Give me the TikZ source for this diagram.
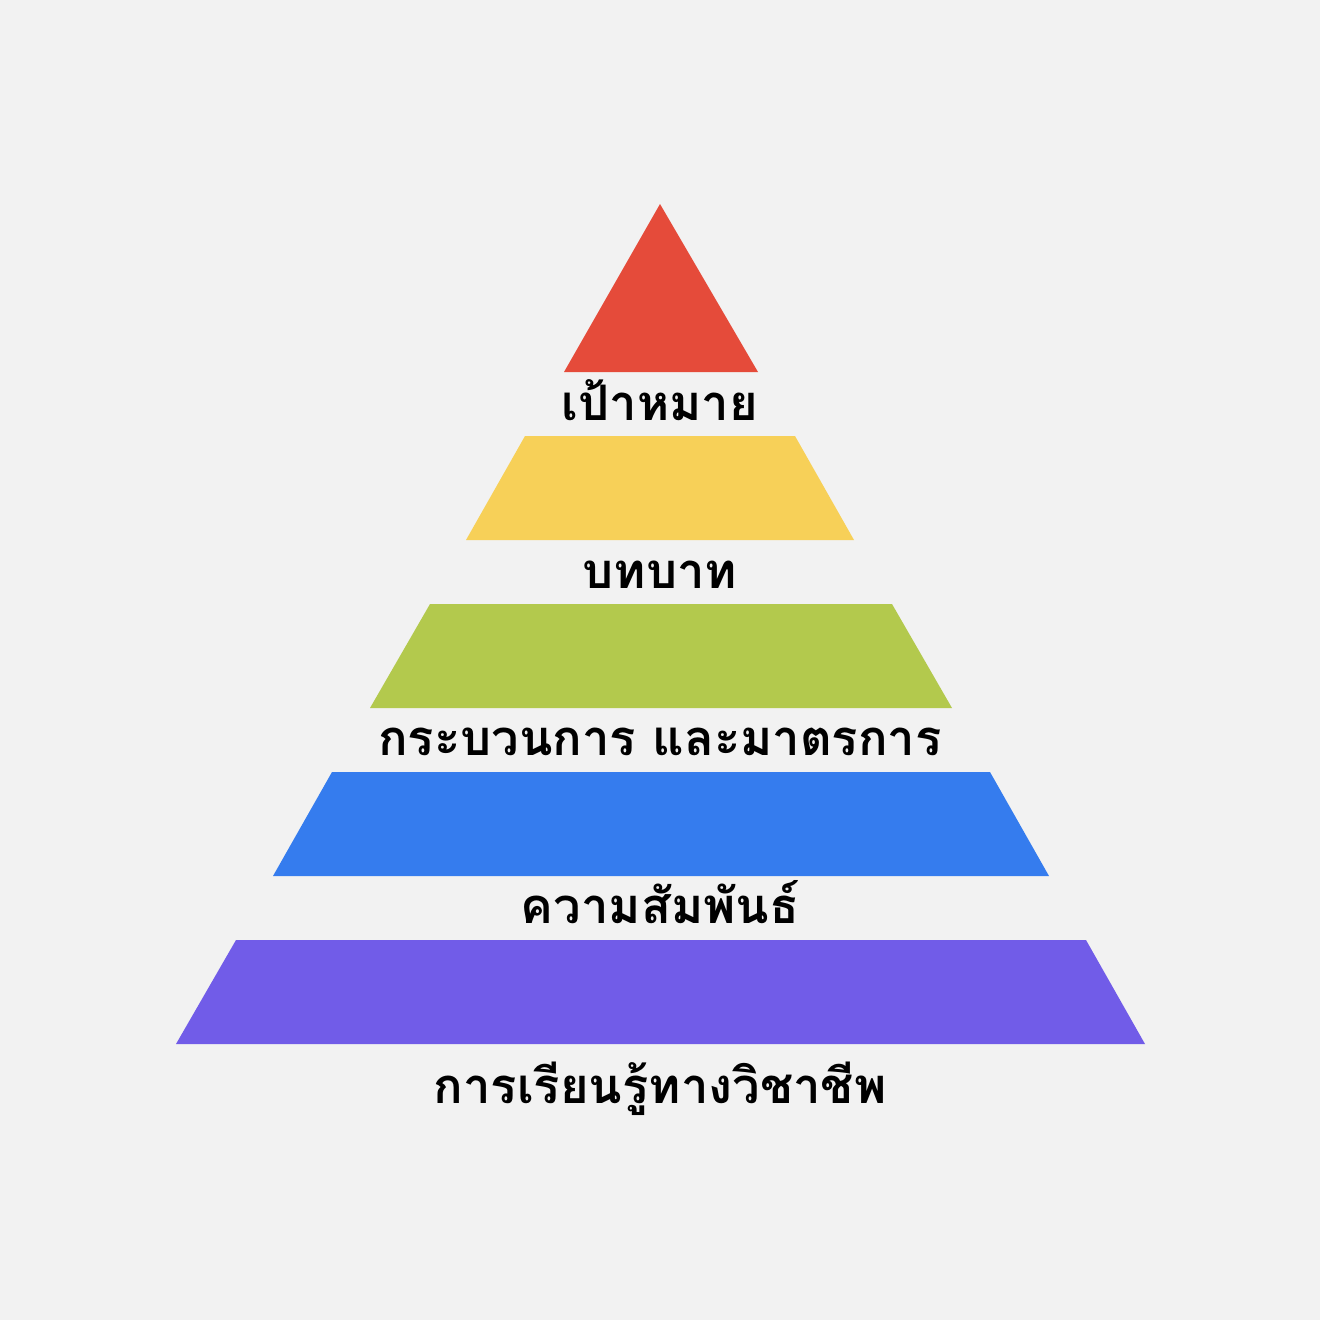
\documentclass[tikz,border=0pt]{standalone}
\usepackage{fontspec}
\newfontfamily\thaifont[Script=Thai]{Loma}
\definecolor{bg}{HTML}{F2F2F2}
\definecolor{c1}{HTML}{E54B3A}
\definecolor{c2}{HTML}{F7D058}
\definecolor{c3}{HTML}{B3C94D}
\definecolor{c4}{HTML}{357CEE}
\definecolor{c5}{HTML}{715CE8}
\tikzset{lbl/.style={font=\thaifont\bfseries\fontsize{49}{58}\selectfont, text=black, inner sep=0pt, anchor=base}}
\begin{document}
\begin{tikzpicture}[x=1pt,y=-1pt]
\fill[bg] (0,0) rectangle (1320,1320);
\useasboundingbox (0,0) rectangle (1320,1320);
\fill[c1] (660,204) -- (758,372) -- (564,372) -- cycle;
\fill[c2] (525,436) -- (795,436) -- (854,540) -- (466,540) -- cycle;
\fill[c3] (430,604) -- (892,604) -- (952,708) -- (370,708) -- cycle;
\fill[c4] (332,772) -- (990,772) -- (1049,876) -- (273,876) -- cycle;
\fill[c5] (236,940) -- (1086,940) -- (1145,1044) -- (176,1044) -- cycle;
\node[lbl] (t1) at (660,420) {เป้าหมาย};
\node[lbl] (t2) at (660,588) {บทบาท};
\node[lbl] (t3) at (660,755) {กระบวนการ และมาตรการ};
\node[lbl] (t4) at (660,923) {ความสัมพันธ์};
\node[lbl] (t5) at (660,1103) {การเรียนรู้ทางวิชาชีพ};
\end{tikzpicture}
\end{document}
